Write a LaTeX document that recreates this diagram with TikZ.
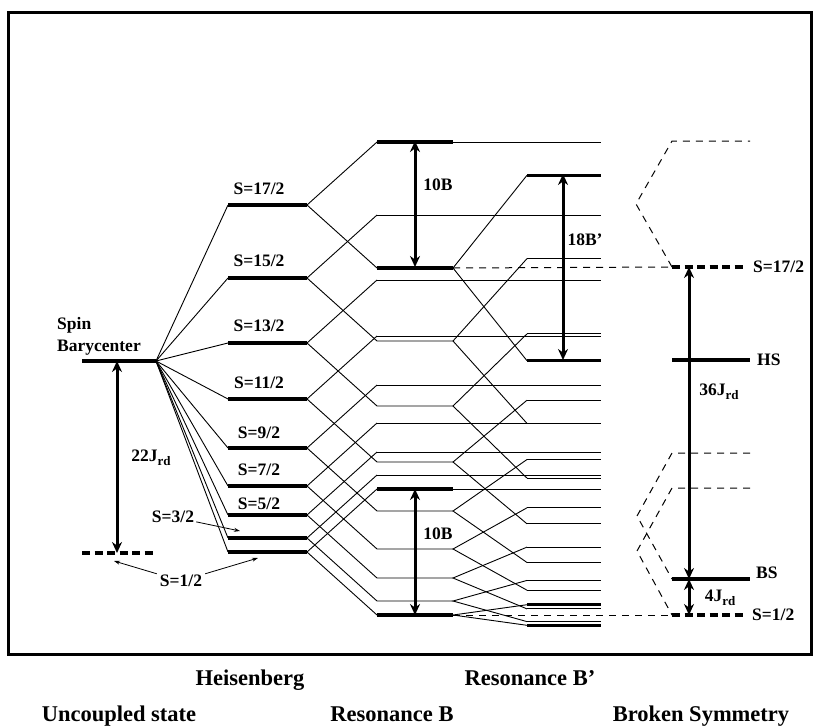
\documentclass[tikz,border=0pt]{standalone}
\usepackage{fontspec}
\setmainfont{Liberation Serif}
\usetikzlibrary{arrows.meta}
\newcommand{\rdsub}{\raisebox{-0.55ex}{\fontsize{13}{13}\selectfont rd}}

\begin{document}
\begin{tikzpicture}[x=1pt,y=-1pt,
    lvl/.style={line width=3.2pt},
    dashlvl/.style={line width=3.6pt,dash pattern=on 8pt off 4.5pt},
    link/.style={line width=0.9pt},
    dashlink/.style={line width=1pt,dash pattern=on 7pt off 6pt},
    gaparrow/.style={line width=3pt,arrows={Stealth[length=11pt,width=10pt]-Stealth[length=11pt,width=10pt]}},
    pointer/.style={line width=0.8pt,arrows={-Stealth[length=6pt,width=4pt]}},
    lab/.style={font=\fontsize{17.5}{22}\selectfont\bfseries,inner sep=0pt},
    colname/.style={font=\fontsize{22.5}{26}\selectfont\bfseries,inner sep=0pt,anchor=base}]
  \useasboundingbox (0,0) rectangle (816,726);
  \draw[line width=3pt] (8,12) rectangle (811,654);

  % uncoupled state
  \coordinate (baryw) at (82,361);
  \coordinate (bary) at (156,361);
  \coordinate (unw) at (82,553);
  \coordinate (une) at (154,553);
  \draw[lvl] (baryw) -- (bary);
  \draw[dashlvl] (unw) -- (une);
  \node[lab,align=left,anchor=west] (spin) at (57,336) {Spin\\Barycenter};
  \coordinate (j22t) at (117,361);
  \coordinate (j22b) at (117,553);
  \draw[gaparrow] (j22t) -- (j22b);
  \node[lab] (j22) at (151,458) {22J\rdsub};

  % Heisenberg, resonance B and resonance B'
  \foreach \s/\y/\k in {17/205/9,15/278/8,13/343/7,11/399/6,9/448/5,7/486/4,5/515/3,3/538/2,1/552/1}{
    \coordinate (Hw\s) at (228,\y);
    \coordinate (He\s) at (307,\y);
    \coordinate (Bu\s) at (377,\y-63);
    \coordinate (Bd\s) at (377,\y+63);
    \coordinate (Bx\s) at (453,\y+63);
    \coordinate (Pu\s) at (527,{\y+63-10.3*\k});
    \coordinate (Pd\s) at (527,{\y+63+10.3*\k});
    \draw[lvl] (Hw\s) -- (He\s);
    \draw[link] (bary) -- (Hw\s);
    \draw[link] (Bu\s) -- (He\s) -- (Bd\s) -- (Bx\s);
    \draw[link] (Bu\s) -- ++(224,0);
    \draw[link] (Pu\s) -- (Bx\s) -- (Pd\s);
    \draw[link] (Pu\s) -- ++(74,0);
    \draw[link] (Pd\s) -- ++(74,0);
  }
  \foreach \s/\y in {17/189,15/261,13/326,11/383,9/433,7/470,5/504}
    \node[lab] (S\s) at (259,\y) {S=\s/2};
  \draw[lvl] (Bu17) -- ++(76,0);
  \draw[lvl] (Bd17) -- (Bx17);
  \draw[lvl] (Bu1) -- ++(76,0);
  \draw[lvl] (Bd1) -- (Bx1);
  \foreach \s in {17,1}{
    \draw[lvl] (Pu\s) -- ++(74,0);
    \draw[lvl] (Pd\s) -- ++(74,0);
  }

  \node[lab,inner sep=2pt] (S3) at (173,517) {S=3/2};
  \coordinate (p3) at (240,531);
  \draw[pointer] (S3) -- (p3);
  \node[lab,inner sep=3pt] (S1) at (181,581) {S=1/2};
  \coordinate (p1l) at (114,561);
  \coordinate (p1r) at (258,558);
  \draw[pointer] (S1) -- (p1l);
  \draw[pointer] (S1) -- (p1r);

  \coordinate (b10t) at (415,141);
  \coordinate (b10b) at (415,267);
  \draw[gaparrow] (b10t) -- (b10b);
  \node[lab] (tenB) at (438,185) {10B};
  \coordinate (c10t) at (415,489);
  \coordinate (c10b) at (415,615);
  \draw[gaparrow] (c10t) -- (c10b);
  \node[lab] (tenBb) at (438,534) {10B};
  \coordinate (b18t) at (563,174);
  \coordinate (b18b) at (563,360);
  \draw[gaparrow] (b18t) -- (b18b);
  \node[lab] (eightB) at (585,240) {18B’};

  % broken symmetry
  \coordinate (bs17) at (672,267);
  \coordinate (bshs) at (672,360);
  \coordinate (bsbs) at (672,579);
  \coordinate (bs1) at (672,615);
  \draw[dashlink] (Bx17) -- (bs17);
  \draw[dashlink] (Bx1) -- (bs1);
  \draw[dashlvl] (bs17) -- ++(73,0);
  \draw[lvl] (bshs) -- ++(78,0);
  \draw[lvl] (bsbs) -- ++(78,0);
  \draw[dashlvl] (bs1) -- ++(73,0);
  \node[lab,anchor=west] (lS17) at (753,267) {S=17/2};
  \node[lab,anchor=west] (lHS) at (757,360) {HS};
  \node[lab,anchor=west] (lBS) at (756,573) {BS};
  \node[lab,anchor=west] (lS1) at (752,615) {S=1/2};
  \draw[dashlink] (bs17) -- (636,204) -- (672,141) -- (750,141);
  \draw[dashlink] (750,453) -- (672,453) -- (637,516) -- (bsbs);
  \draw[dashlink] (750,488) -- (672,488) -- (637,551) -- (bs1);
  \coordinate (j36t) at (689,267);
  \coordinate (j36b) at (689,579);
  \coordinate (j4b) at (689,615);
  \draw[gaparrow] (j36t) -- (j36b);
  \draw[gaparrow] (j36b) -- (j4b);
  \node[lab] (j36) at (719,392) {36J\rdsub};
  \node[lab] (j4) at (720,598) {4J\rdsub};

  % column names
  \node[colname] (heis) at (250,685) {Heisenberg};
  \node[colname] (resb2) at (530,685) {Resonance B’};
  \node[colname] (unc) at (119,721) {Uncoupled state};
  \node[colname] (resb) at (392,721) {Resonance B};
  \node[colname] (broken) at (701,721) {Broken Symmetry};
\end{tikzpicture}
\end{document}
